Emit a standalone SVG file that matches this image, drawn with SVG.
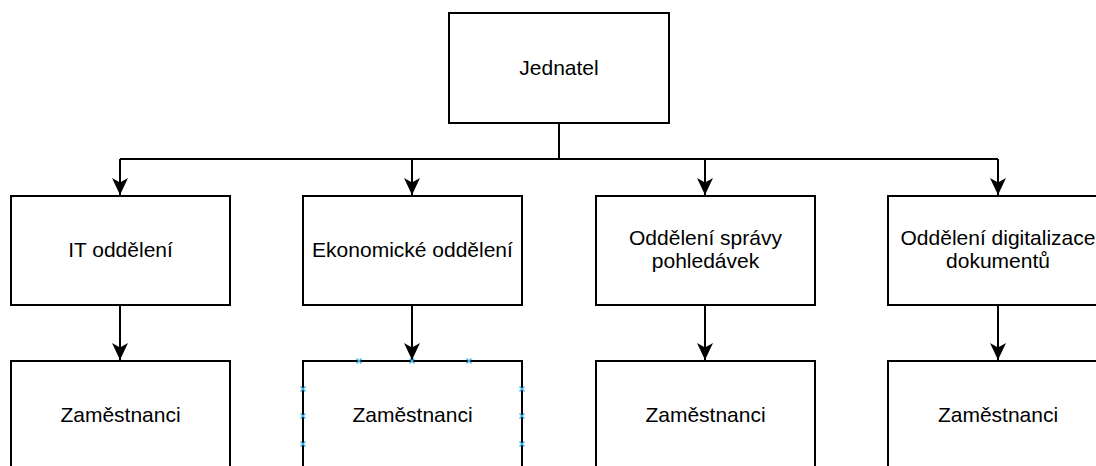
<svg xmlns="http://www.w3.org/2000/svg" width="1096" height="466" viewBox="0 0 1096 466">
<style>
.box{fill:#fff;stroke:#000;stroke-width:2}
.lbl{font-family:"Liberation Sans",Arial,sans-serif;font-size:21px;fill:#000;text-anchor:middle}
.edge{fill:none;stroke:#000;stroke-width:2}
.hdl{stroke:#3bb4ec;stroke-width:1.3;fill:none}
</style>
<defs>
<marker id="arr" markerUnits="userSpaceOnUse" markerWidth="20" markerHeight="20" refX="17" refY="8" orient="auto">
<path d="M17,8 L0,0 L4.5,8 L0,16 Z" fill="#000"/>
</marker>
</defs>
<rect width="1096" height="466" fill="#fff"/>
<g id="connectors">
<path class="edge" d="M559,123 V159"/>
<path class="edge" d="M120,159 H998"/>
<path class="edge" d="M120,159 V195" marker-end="url(#arr)"/>
<path class="edge" d="M412,159 V195" marker-end="url(#arr)"/>
<path class="edge" d="M705,159 V195" marker-end="url(#arr)"/>
<path class="edge" d="M998,159 V195" marker-end="url(#arr)"/>
<path class="edge" d="M120,305 V360" marker-end="url(#arr)"/>
<path class="edge" d="M412,305 V360" marker-end="url(#arr)"/>
<path class="edge" d="M705,305 V360" marker-end="url(#arr)"/>
<path class="edge" d="M998,305 V360" marker-end="url(#arr)"/>
</g>
<g id="jednatel">
<rect class="box" x="449" y="13" width="220" height="110"/>
<text class="lbl" x="559" y="75">Jednatel</text>
</g>
<g id="it">
<rect class="box" x="11" y="196" width="219" height="109"/>
<text class="lbl" x="120.5" y="257">IT oddělení</text>
</g>
<g id="ekonomicke">
<rect class="box" x="303" y="196" width="219" height="109"/>
<text class="lbl" x="412.5" y="257">Ekonomické oddělení</text>
</g>
<g id="spravy">
<rect class="box" x="596" y="196" width="219" height="109"/>
<text class="lbl" x="705.5" y="245">Oddělení správy</text>
<text class="lbl" x="705.5" y="268">pohledávek</text>
</g>
<g id="digitalizace">
<rect class="box" x="888" y="196" width="219" height="109"/>
<text class="lbl" x="998" y="245">Oddělení digitalizace</text>
<text class="lbl" x="998" y="268">dokumentů</text>
</g>
<g id="zam1">
<rect class="box" x="11" y="361" width="219" height="110"/>
<text class="lbl" x="120.5" y="422">Zaměstnanci</text>
</g>
<g id="zam2">
<rect class="box" x="303" y="361" width="219" height="110"/>
<text class="lbl" x="412.5" y="422">Zaměstnanci</text>
<path class="hdl" d="M356.5,358.5 l5,5 m0,-5 l-5,5 M409.5,358.5 l5,5 m0,-5 l-5,5 M466.5,358.5 l5,5 m0,-5 l-5,5 M300.5,386.5 l5,5 m0,-5 l-5,5 M300.5,413.5 l5,5 m0,-5 l-5,5 M300.5,441.5 l5,5 m0,-5 l-5,5 M519.5,386.5 l5,5 m0,-5 l-5,5 M519.5,413.5 l5,5 m0,-5 l-5,5 M519.5,441.5 l5,5 m0,-5 l-5,5"/>
</g>
<g id="zam3">
<rect class="box" x="596" y="361" width="219" height="110"/>
<text class="lbl" x="705.5" y="422">Zaměstnanci</text>
</g>
<g id="zam4">
<rect class="box" x="888" y="361" width="219" height="110"/>
<text class="lbl" x="998" y="422">Zaměstnanci</text>
</g>
</svg>
